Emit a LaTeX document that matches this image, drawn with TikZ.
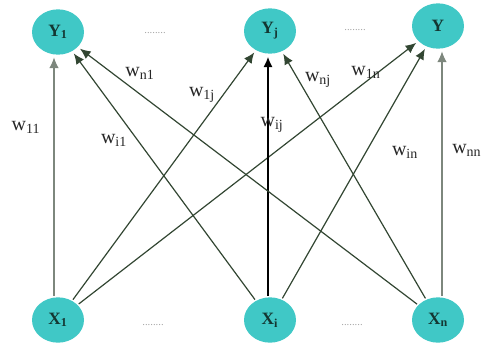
\documentclass[tikz,border=0pt]{standalone}
\usepackage{fontspec}
\setmainfont{Liberation Serif}
\usetikzlibrary{shapes.geometric,arrows.meta}
\definecolor{nodefill}{RGB}{64,200,198}
\definecolor{nodetext}{RGB}{20,55,50}
\definecolor{edgecol}{RGB}{50,70,50}
\definecolor{arrowcol}{RGB}{20,60,20}
\definecolor{palecol}{RGB}{125,135,125}
\tikzset{
  neuron/.style={ellipse,fill=nodefill,draw=none,minimum width=39pt,minimum height=34pt,inner sep=0pt,text=nodetext,font=\fontsize{13}{13}\selectfont\bfseries},
  wlabel/.style={font=\fontsize{15}{15}\selectfont,text=black!85,inner sep=0pt},
  dotslabel/.style={font=\fontsize{8}{8}\selectfont,text=gray!70,inner sep=0pt},
  conn/.style={draw=edgecol,line width=0.9pt,-{Latex[length=8pt,width=7pt]},shorten >=2pt,shorten <=1pt},
  paleconn/.style={conn,draw=palecol},
  boldconn/.style={conn,draw=black,line width=1.5pt}
}
\begin{document}
\begin{tikzpicture}[x=0.75pt,y=-0.75pt]
\useasboundingbox (0,0) rectangle (481,344);
% nodes
\node[neuron] (Y1) at (58,32) {Y\textsubscript{1}};
\node[neuron] (Yj) at (270,31) {Y\textsubscript{j}};
\node[neuron] (Y) at (438,26) {Y};
\node[neuron] (X1) at (58,320) {X\textsubscript{1}};
\node[neuron] (Xi) at (270,320) {X\textsubscript{i}};
\node[neuron] (Xn) at (438,320) {X\textsubscript{n}};
% dots
\node[dotslabel] (d1) at (155,33) {........};
\node[dotslabel] (d2) at (355,30) {........};
\node[dotslabel] (d3) at (153,325) {........};
\node[dotslabel] (d4) at (352,325) {........};
% connections
\draw[paleconn,arrowcol,draw=palecol] (X1.100) -- (Y1.260);
\draw[conn,arrowcol,draw=edgecol] (X1) -- (Yj);
\draw[conn,arrowcol,draw=edgecol] (X1) -- (Y);
\draw[conn,arrowcol,draw=edgecol] (Xi) -- (Y1);
\draw[boldconn] (Xi.95) -- (Yj.265);
\draw[conn,arrowcol,draw=edgecol] (Xi) -- (Y);
\draw[conn,arrowcol,draw=edgecol] (Xn) -- (Y1);
\draw[conn,arrowcol,draw=edgecol] (Xn) -- (Yj);
\draw[paleconn,arrowcol,draw=palecol] (Xn.80) -- (Y.280);
% labels
\node[wlabel] (l11) at (26,127) {w\textsubscript{11}};
\node[wlabel] (li1) at (114,140) {w\textsubscript{i1}};
\node[wlabel] (ln1) at (140,73) {w\textsubscript{n1}};
\node[wlabel] (l1j) at (202,95) {w\textsubscript{1j}};
\node[wlabel] (lij) at (272,125) {w\textsubscript{ij}};
\node[wlabel] (lnj) at (318,80) {w\textsubscript{nj}};
\node[wlabel] (l1n) at (366,72) {w\textsubscript{1n}};
\node[wlabel] (lin) at (405,152) {w\textsubscript{in}};
\node[wlabel,anchor=west] (lnn) at (452,150) {w\textsubscript{nn}};
\end{tikzpicture}
\end{document}
